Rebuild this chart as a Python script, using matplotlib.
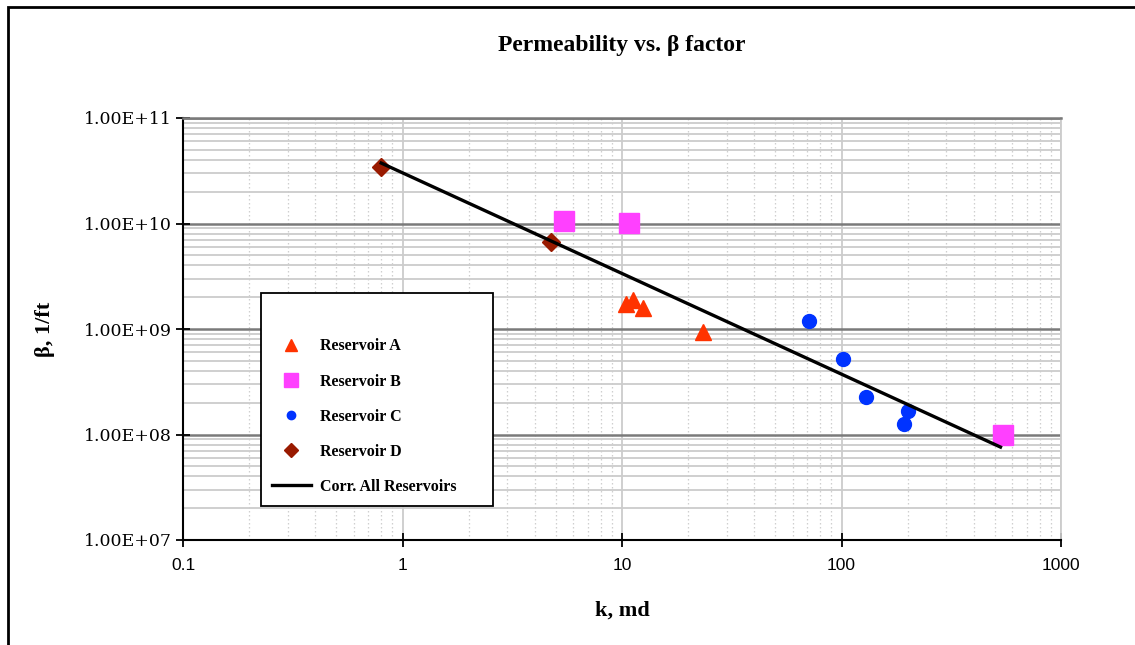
import numpy as np
import matplotlib.pyplot as plt
from matplotlib.patches import Rectangle
from matplotlib.ticker import LogLocator, FixedLocator, NullFormatter

# data
resA_k = [10.4, 11.2, 12.5, 23.5]
resA_b = [1.73e9, 1.88e9, 1.58e9, 9.4e8]
resB_k = [5.47, 10.8, 543]
resB_b = [1.06e10, 1.01e10, 9.9e7]
resC_k = [71, 102, 129, 201, 192]
resC_b = [1.18e9, 5.16e8, 2.28e8, 1.68e8, 1.26e8]
resD_k = [0.80, 4.76]
resD_b = [3.44e10, 6.68e9]
corr_k = [0.8, 530]
corr_b = [3.74e10, 7.6e7]

xticks = [0.1, 1, 10, 100, 1000]
xticklabels = ['0.1', '1', '10', '100', '1000']
yticks = [1e7, 1e8, 1e9, 1e10, 1e11]
yticklabels = ['1.00E+07', '1.00E+08', '1.00E+09', '1.00E+10', '1.00E+11']

serif = ['Liberation Serif', 'DejaVu Serif']

fig = plt.figure(figsize=(11.35, 6.45), dpi=100)
ax = fig.add_axes([183/1135, 1-540/645, (1061-183)/1135, (540-118)/645])
ax.set_xscale('log')
ax.set_yscale('log')
ax.set_xlim(0.1, 1000)
ax.set_ylim(1e7, 1e11)

# grid
ax.set_axisbelow(True)
ax.xaxis.set_minor_locator(LogLocator(base=10, subs=np.arange(2, 10)))
ax.yaxis.set_minor_locator(LogLocator(base=10, subs=np.arange(2, 10)))
ax.xaxis.set_minor_formatter(NullFormatter())
ax.yaxis.set_minor_formatter(NullFormatter())
ax.grid(which='major', axis='y', color='#7a7a7a', lw=1.8)
ax.grid(which='minor', axis='y', color='#cccccc', lw=1.3)
ax.grid(which='major', axis='x', color='#cccccc', lw=1.3)
ax.grid(which='minor', axis='x', color='#cfcfcf', lw=0.9, ls=(0, (1.2, 2)))
ax.tick_params(which='minor', length=0)

ax.spines['left'].set_color('black')
ax.spines['bottom'].set_color('black')
ax.spines['left'].set_linewidth(1.5)
ax.spines['bottom'].set_linewidth(1.5)
ax.spines['top'].set_color('#7a7a7a')
ax.spines['top'].set_linewidth(1.8)
ax.spines['right'].set_color('#cccccc')
ax.spines['right'].set_linewidth(1.3)

ax.xaxis.set_major_locator(FixedLocator(xticks))
ax.yaxis.set_major_locator(FixedLocator(yticks))
ax.set_xticklabels(xticklabels, fontfamily=['Liberation Sans Narrow', 'Liberation Sans'], fontsize=12.5)
ax.set_yticklabels(yticklabels, fontfamily=['DejaVu Serif'], fontsize=12.5)
ax.tick_params(which='major', direction='inout', length=10, width=1.3, color='black')
ax.tick_params(axis='x', pad=8)
ax.tick_params(axis='y', pad=3)

# series
ax.plot(resA_k, resA_b, ls='none', marker='^', ms=11, color='#ff3300', mec='#ff3300', label='Reservoir A', zorder=3)
ax.plot(resB_k, resB_b, ls='none', marker='s', ms=14, color='#ff40ff', mec='#ff40ff', label='Reservoir B', zorder=3)
ax.plot(resC_k, resC_b, ls='none', marker='o', ms=10, color='#0033ff', mec='#0033ff', label='Reservoir C', zorder=3)
ax.plot(resD_k, resD_b, ls='none', marker='D', ms=9, color='#991a00', mec='#991a00', label='Reservoir D', zorder=3)
ax.plot(corr_k, corr_b, color='black', lw=2.4, label='Corr. All Reservoirs', zorder=4)

ax.set_title('Permeability vs. β factor', fontfamily=serif, fontweight='bold', fontsize=17, pad=48)
ax.set_xlabel('k, md', fontfamily=serif, fontweight='bold', fontsize=16, labelpad=20)
ax.set_ylabel('β, 1/ft', fontfamily=serif, fontweight='bold', fontsize=16, labelpad=21)

leg = ax.legend(loc='upper left', bbox_to_anchor=(261/1135, 1-503/645, 232/1135, 210/645),
                bbox_transform=fig.transFigure, mode='expand', borderaxespad=0,
                prop={'family': serif, 'weight': 'bold', 'size': 11.5},
                frameon=True, fancybox=False, edgecolor='black', framealpha=1,
                labelspacing=1.2, handlelength=2.4, handletextpad=0.6, borderpad=0.7,
                title=' ', title_fontproperties={'size': 11})
leg.get_frame().set_linewidth(1.3)
for h, s in zip(leg.legend_handles, [8, 10, 6, 7]):
    h.set_markersize(s)

# outer chart border
fig.patches.append(Rectangle((8/1135, -0.1), 1.2, 1-7/645+0.1, transform=fig.transFigure,
                             fill=False, edgecolor='black', lw=2, clip_on=False))

fig.savefig('out.png', dpi=100)
